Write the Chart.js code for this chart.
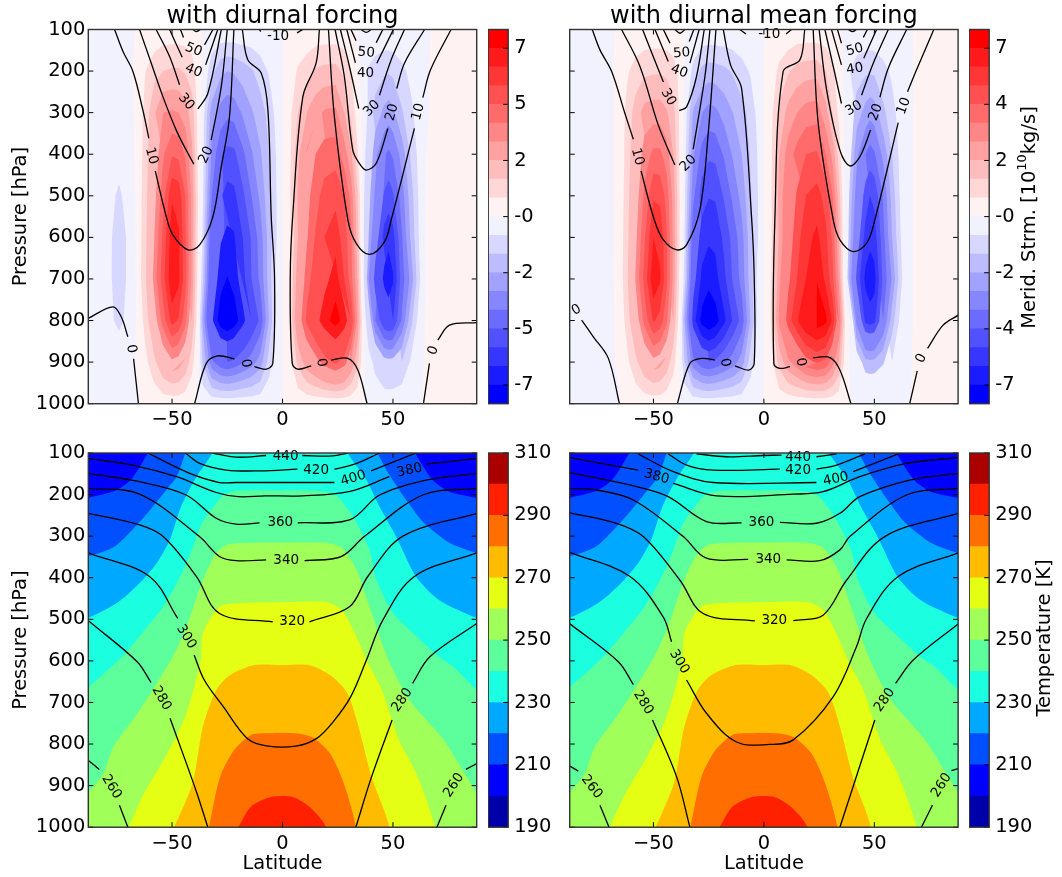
<!DOCTYPE html>
<html>
<head>
<meta charset="utf-8">
<title>Meridional streamfunction and temperature</title>
<script src="https://cdn.jsdelivr.net/npm/chart.js@4/dist/chart.umd.js"></script>
<style>
  body { margin: 0; background: #fff; }
  canvas { position: absolute; }
</style>
</head>
<body>
<script>
const panelTitles = ["with diurnal forcing", "with diurnal mean forcing"];
const latTicks = [-50, 0, 50];
const latTickLabels = ["\u221250", "0", "50"];
const pressureTicks = [100, 200, 300, 400, 500, 600, 700, 800, 900, 1000];
const pressureLevels = [100, 200, 300, 400, 500, 600, 700, 800, 900, 1000];

// colour bars
const strmLevels = [0.8, 1.6, 2.4, 3.2, 4, 4.8, 5.6, 6.4, 7.2, 8];
const strmTicks = [7.2, 4.8, 2.4, 0, -2.4, -4.8, -7.2];
const strmTickLabelsLeft = ["7", "5", "2", "-0", "-2", "-5", "-7"];
const strmTickLabelsRight = ["7", "4", "2", "-0", "-2", "-4", "-7"];
const redBands = ["#fff2f2", "#ffd7d7", "#ffbcbc", "#ffa1a1", "#ff8686", "#ff6b6b", "#ff5151", "#ff3636", "#ff1b1b", "#ff0000"];
const blueBands = ["#f2f2ff", "#d7d7ff", "#bcbcff", "#a1a1ff", "#8686ff", "#6b6bff", "#5151ff", "#3636ff", "#1b1bff", "#0000ff"];
const tempLevels = [190, 200, 210, 220, 230, 240, 250, 260, 270, 280, 290, 300, 310];
const tempTicks = [190, 210, 230, 250, 270, 290, 310];
const tempBands = ["#0000aa", "#0000ff", "#0050ff", "#00a8ff", "#1bffe0", "#5cff9c", "#a0ff58", "#e4ff14", "#ffbb00", "#ff6e00", "#ff2000", "#aa0000"];

// streamfunction, one row per pressure level
const strmLat = [-88, -78, -74, -70,
  -66, -62, -58, -54, -50, -47, -44, -41, -38,
  -36, -32, -28, -25, -22, -18, -14, -10, -6, -3, 0,
  3, 7, 11, 15, 19, 24, 28, 31, 34,
  37, 39, 42, 46, 48, 50, 54, 58, 62, 65, 68, 78, 88];

const strmLeft = [
  [-.1,-.1,-.1,-.1, .02,.1,.2,.3,.3,.3,.3,.2,.1, -.05,-.1,-.1,-.1,-.1,-.1,-.1,-.1,-.1,-.05,0, .1,.1,.1,.2,.2,.2,.2,.1,-.02, -.05,-.1,-.1,-.1,-.1,-.1,-.1,-.1,-.1,-.05,.02,.05,.05],
  [-.1,-.2,-.2,-.1, .1,.8,1.3,1.6,1.7,1.7,1.5,1.2,.3, -.1,-1.3,-2.2,-2.4,-2.3,-2,-1.7,-1.2,-.7,-.3,0, .3,.9,1.3,1.7,1.85,1.9,1.4,.8,.15, -.3,-.9,-1.2,-1.45,-1.5,-1.4,-1,-.6,-.2,-.05,.05,.1,.1],
  [-.1,-.2,-.3,-.2, .1,1.1,2.3,3.2,3.3,3.2,2.8,2,.4, -.5,-2.8,-3.5,-3.8,-3.7,-3.1,-2.5,-2,-1.3,-.6,0, .5,1.6,2.4,2.95,3.3,3.4,2.4,1.4,.4, -.3,-1,-1.9,-2.6,-2.8,-2.6,-1.7,-1,-.4,-.05,.05,.1,.1],
  [-.1,-.4,-.55,-.3, .1,1.2,2.6,3.9,4.7,4.6,3.9,2.6,.5, -.6,-3.4,-4.7,-5.05,-5,-4.2,-3.3,-2.5,-1.6,-.8,0, .5,2.2,3.3,4,4.4,4.45,3.6,2.6,.9, -.6,-1.4,-3,-3.9,-4.15,-3.9,-2.9,-1.5,-.5,0,.05,.1,.1],
  [-.2,-.65,-.9,-.6, .1,1.3,2.9,4.5,6.3,6.1,4.8,3,.6, -.7,-4,-5.5,-5.9,-5.8,-5,-4,-3,-1.8,-.9,0, .5,2.5,3.7,4.5,5.1,5.35,4.8,3.7,1.7, -.8,-2,-3.6,-4.9,-5.2,-4.9,-3.6,-2,-.6,0,.05,.1,.1],
  [-.2,-.75,-1,-.75, .1,1.4,3.2,5,6.9,6.5,5,3,.5, -1,-5,-6.3,-6.6,-6.5,-5.6,-4.7,-3.6,-2,-.9,0, .5,2.4,3.9,4.9,5.6,6.05,5.2,4.2,2, -.9,-2.4,-4.2,-5.9,-6.15,-5.9,-4.1,-2.3,-.7,0,.05,.1,.1],
  [-.2,-.75,-1,-.75, .1,1.5,3.5,5.3,7.1,6.6,5.1,3,.3, -1.5,-5.5,-6.9,-7.25,-6.9,-5.9,-4.8,-3.8,-2,-.7,0, .6,2.9,4.4,5.3,6.1,6.8,5.6,4.4,2.4, -1,-3.2,-5.2,-6.6,-6.9,-6.5,-4.4,-3,-.9,0,.05,.1,.1],
  [-.2,-.72,-.9,-.7, .05,1.1,2.7,4.4,5.9,5.5,4.3,2.4,.1, -2.6,-6.2,-7.7,-8,-7.7,-6.7,-5.6,-4.6,-2.3,-.7,0, .7,3.3,5,6,6.9,7.55,6.9,5.6,3, -.3,-1.6,-4,-5.55,-5.75,-5.6,-3.9,-1.9,-.4,.05,.05,.1,.1],
  [-.1,-.4,-.5,-.3, .05,.6,1.4,2.4,3,2.8,2.2,1.1,-.05, -1.7,-3.8,-4.6,-4.8,-4.6,-4.1,-3.6,-2.8,-1.2,-.3,0, .4,1.8,2.9,3.6,4.4,5,4.4,3.2,1.8, -.1,-.4,-1.1,-2,-2.1,-2.05,-1.6,-.7,-.1,.05,.05,.1,.1],
  [-.1,-.1,-.1,-.1, -.05,.1,.2,.3,.3,.3,.2,.1,-.05, -.1,-.2,-.2,-.2,-.2,-.2,-.2,-.2,-.1,-.05,0, .1,.2,.2,.2,.2,.2,.2,.2,.1, .02,-.05,-.1,-.1,-.1,-.1,-.1,-.05,-.02,.02,.05,.05,.05]
];

const strmRight = [
  [-.1,-.1,-.1,-.1, .05,.1,.2,.2,.2,.2,.2,.2,.15, .02,-.1,-.1,-.1,-.1,-.1,-.1,-.1,-.1,-.05,0, .1,.1,.1,.2,.2,.2,.2,.1,.02, -.05,-.1,-.1,-.1,-.1,-.1,-.1,-.1,-.1,-.05,.01,.05,.05],
  [-.1,-.1,-.1,-.1, .1,.7,1.1,1.4,1.5,1.5,1.4,1.1,.6, -.02,-1,-1.8,-2,-1.95,-1.8,-1.5,-1.1,-.7,-.3,0, .3,1,1.5,1.9,2.05,2.1,1.6,1,.3, -.2,-.8,-1.2,-1.45,-1.5,-1.45,-1.05,-.65,-.25,-.08,.01,.1,.1],
  [-.1,-.1,-.1,-.1, .1,1,2,2.7,2.8,2.8,2.5,1.9,.6, -.2,-2.5,-3.2,-3.5,-3.4,-2.9,-2.4,-1.9,-1.3,-.6,0, .5,1.8,2.7,3.2,3.55,3.65,2.7,1.6,.6, -.2,-1,-2,-2.7,-2.95,-2.8,-1.8,-1.1,-.4,-.08,.01,.1,.1],
  [-.1,-.1,-.1,-.1, .1,1.1,2.4,3.6,4.2,4.2,3.6,2.4,.6, -.3,-3.1,-4.3,-4.65,-4.6,-3.9,-3.1,-2.4,-1.5,-.8,0, .5,2.4,3.6,4.3,4.8,4.9,4,3,1.2, -.3,-1.3,-3,-4,-4.3,-4.1,-3,-1.6,-.5,-.05,.01,.1,.1],
  [-.1,-.1,-.1,-.1, .1,1.2,2.7,4.2,5.5,5.4,4.5,2.9,.7, -.5,-3.8,-5.2,-5.55,-5.5,-4.7,-3.8,-2.9,-1.7,-.9,0, .5,2.7,4,4.9,5.6,5.9,5.3,4.1,2, -.4,-1.9,-3.6,-5.2,-5.6,-5.4,-3.9,-2.1,-.6,-.05,.01,.1,.1],
  [-.1,-.1,-.1,-.1, .1,1.3,3,4.7,6.4,6.2,4.9,3,.7, -.7,-4.7,-6,-6.25,-6.2,-5.4,-4.5,-3.5,-1.9,-.9,0, .5,2.6,4.2,5.3,6.1,6.6,5.8,4.7,2.4, -.5,-2.2,-4.2,-5.9,-6.15,-6,-4.3,-2.4,-.8,-.05,.01,.1,.1],
  [-.1,-.1,-.1,-.1, .1,1.4,3.3,5.1,7,6.5,5,3,.5, -1,-5.2,-6.6,-6.95,-6.7,-5.8,-4.7,-3.7,-2,-.7,0, .6,3,4.6,5.6,6.4,7.15,6.2,5.1,3, -.6,-2.8,-5,-6.6,-6.9,-6.7,-4.6,-3.1,-1,-.05,.01,.1,.1],
  [-.1,-.1,-.1,-.1, .05,1.1,2.6,4.3,5.7,5.3,4.2,2.4,.2, -2.3,-6,-7.5,-7.9,-7.6,-6.6,-5.5,-4.5,-2.3,-.7,0, .7,3.4,5.2,6.3,7.2,7.75,7.4,6.3,4, .5,-.1,-3.5,-5.8,-6,-5.85,-4,-2,-.5,-.05,.01,.1,.1],
  [-.1,-.1,-.1,-.1, .05,.6,1.4,2.3,2.9,2.7,2.1,1.1,.05, -1.5,-3.7,-4.6,-4.8,-4.6,-4.1,-3.6,-2.8,-1.2,-.3,0, .4,1.9,3,3.7,4.5,4.9,4.6,3.6,2.3, .3,-.1,-.9,-2.1,-2.2,-2.15,-1.7,-.8,-.15,-.02,.01,.1,.1],
  [-.1,-.1,-.1,-.1, -.05,.1,.2,.3,.3,.3,.2,.1,-.03, -.1,-.2,-.2,-.2,-.2,-.2,-.2,-.2,-.1,-.05,0, .1,.2,.2,.2,.2,.2,.2,.2,.1, .1,.03,-.05,-.1,-.1,-.1,-.1,-.05,-.02,-.01,.01,.05,.05]
];

// isotherms as [lat, pressure], each one fills everything warmer below it
const iso200 = [[-95, 50], [95, 50], [95, 1100]];
const iso210 = [[-92,212],[-88,208],[-75,189],[-68,160],[-61,100],[-59,70],[58,70],[60,100],[68,165],[75.5,193],[88,208],[92,212]];
const iso220 = [[-92,352],[-88,348],[-80,335],[-75,321],[-68,285],[-61.5,247],[-52.6,189],[-48,158],[-44,100],[-42,70],[41,70],[43,100],[48.4,153],[56,213],[64,268],[75.5,316],[87.3,340],[92,345]];
const iso230 = [[-92,500],[-88,497],[-75,461],[-64.7,413],[-57,365],[-51,309],[-46,230],[-39,158],[-31.7,100],[-30,70],[28,70],[29.5,100],[38,165],[44,230],[51.5,302],[60.5,398],[71,454],[88,497],[92,500]];
const iso240 = [[-92,670],[-87.8,662],[-72.7,590],[-63.7,534],[-54.6,474],[-47,405],[-41,333],[-36.5,269],[-27.5,205],[-21,191],[0,190],[15,191],[24,201],[32,254],[39.4,333],[42.5,405],[50,485],[59,533],[71,591],[77.6,615],[88,670],[92,680]];
const iso250 = [[-92,960],[-87.9,918],[-81,870],[-76.6,807],[-65.6,726],[-50,593],[-43.5,518],[-36,405],[-30,341],[-24,319],[0,315],[20,316],[27,329],[33.5,381],[39.4,470],[48,598],[57.5,694],[73,790],[80.7,855],[87.9,918],[92,960]];
const iso260 = [[-69.7,1000],[-62.6,918],[-53,831],[-44,734],[-37,598],[-36,533],[-28.5,470],[-19.5,461],[0,459],[20,459],[27,478],[33.5,542],[38,598],[45,670],[52.7,790],[60.5,870],[69,1000]];
const iso270 = [[-49,1000],[-40.7,894],[-36,758],[-30,670],[-23.7,634],[-12.8,610],[0,610],[12,610],[21.5,634],[29.3,677],[34,750],[40.3,879],[48.4,1000]];
const iso280 = [[-33.3,1000],[-28.3,879],[-22,815],[-14.3,778],[-6.5,774],[6,774],[13.7,784],[21.5,822],[27.7,894],[33.2,1000]];
const iso290 = [[-20,1000],[-14.3,951],[-5,927],[4.4,927],[12.2,951],[19.6,1000]];
const isotherms = [iso200, iso210, iso220, iso230, iso240, iso250, iso260, iso270, iso280, iso290];

// contour lines as broken pieces, the breaks are where the labels sit
const strmLinesLeft = [
  [[-76,100],[-72.2,153],[-67.7,201],[-63.2,294],[-60.5,362]],
  [[-57.6,440],[-52.6,550],[-49.6,594],[-42.8,630],[-37.5,618],[-31.5,550],[-27.7,430],[-24,310],[-22,100]],
  [[-64.7,100],[-59.4,181],[-54.1,262],[-48.1,342],[-43.6,390],[-40.1,424]],
  [[-32.3,366],[-27.7,237],[-25,100]],
  [[-57.2,100],[-51.1,165],[-46.6,233]],
  [[-38.3,291],[-33.8,254],[-27.7,100]],
  [[-51.1,100],[-45.4,167]],
  [[-34.8,185],[-29.3,100]],
  [[-46.2,100],[-44.8,119]],
  [[-35.3,137],[-31.5,100]],
  [[-40.6,100],[-39.1,105],[-37.1,100]],
  [[-18.2,100],[-15.7,173],[-9.6,205],[-6.6,294],[-5.1,550],[-3.6,698],[-4.4,903],[-7.4,917],[-12.7,911]],
  [[-21.7,892],[-29.3,885],[-34.5,903],[-39.8,1000]],
  [[-88,795],[-76.8,767],[-73,791],[-70,839]],
  [[-67.4,892],[-65.2,1000]],
  [[-10.4,100],[-9.9,105]],
  [[6.6,108],[9.2,100]],
  [[16.7,100],[15.2,181],[9.2,262],[4.7,542],[3.5,694],[4.4,903],[7,917],[13,909]],
  [[22,895],[29.6,891],[34.1,919],[38.3,1000]],
  [[20.8,100],[23.5,310],[29.6,558],[33.3,614],[39.4,641],[46.2,610],[49.2,558],[59.7,338]],
  [[63.5,264],[67,197],[76.3,100]],
  [[23.8,100],[28,213],[31.8,390],[34.8,422],[37.9,438],[42.4,422],[47.7,338]],
  [[51.7,242],[55.2,181],[64.3,100]],
  [[26.2,100],[30.3,189],[34.5,290]],
  [[43.9,258],[49.2,173],[55.2,100]],
  [[29.1,100],[33,180]],
  [[42.7,181],[50.2,100]],
  [[31,100],[33.3,127]],
  [[42.4,132],[45.4,100]],
  [[35.6,100],[37.9,107],[40.1,100]],
  [[63.8,1000],[66.5,903]],
  [[70.3,847],[75.6,811],[87.9,805]]
];
const strmLabelsLeft = [
  [-59.4,404,"10",75],[-34.5,402,"20",-65],[-43.6,274,"30",50],[-40.3,199,"40",22],[-40.3,149,"50",22],
  [-2,116,"-10",0],[-68.5,868,"0",80],[-16.7,903,"0",80],[17.5,901,"0",80],
  [61.5,298,"10",-75],[49.6,299,"20",-75],[40.4,290,"30",-45],[37.6,207,"40",0],[37.9,156,"50",5],[68.3,872,"0",-70]
];

const strmLinesRight = [
  [[-77.7,100],[-74.2,149],[-68.9,201],[-62.9,302],[-59.1,364]],
  [[-55.6,440],[-49.6,558],[-45.5,606],[-39.5,630],[-35,618],[-29,534],[-25.2,350],[-21.7,100]],
  [[-64.4,100],[-56.1,189],[-47.8,330],[-40.3,426]],
  [[-32,388],[-26.7,213],[-24.4,100]],
  [[-54.9,100],[-50.1,165],[-45.5,226]],
  [[-38.3,295],[-35,286],[-30.5,213],[-27,100]],
  [[-49.3,100],[-43.3,177]],
  [[-33.5,181],[-29.3,100]],
  [[-45.5,100],[-42.5,133]],
  [[-33.8,129],[-31.7,100]],
  [[-40.3,100],[-38,109],[-35.7,100]],
  [[-18.4,100],[-15.1,185],[-10.1,242],[-5.6,550],[-4.4,694],[-4.4,903],[-6.8,919],[-13.1,909]],
  [[-22.2,895],[-28.2,891],[-33.5,903],[-39.2,1000]],
  [[-10.9,100],[-8.1,111]],
  [[10,111],[12.5,100]],
  [[-82.5,799],[-77.2,839],[-70.4,891],[-65.4,1000]],
  [[18.5,100],[16.3,173],[8.7,201],[5,550],[4.5,903],[7.2,915],[11.8,911]],
  [[22.3,889],[29.9,889],[34.4,919],[39.4,1000]],
  [[22.3,100],[24.6,326],[31.4,558],[34.4,606],[40.4,634],[46.5,614],[50.2,558],[60.8,324]],
  [[65,250],[69.1,197],[76.9,100]],
  [[25,100],[28.4,246],[34.4,390],[38.9,428],[43.4,406],[48.3,342]],
  [[52.5,263],[56.3,193],[64.6,100]],
  [[27.6,100],[31.4,189],[35.1,278]],
  [[44.2,258],[49.5,181],[56.3,100]],
  [[30.6,100],[35.1,185]],
  [[45.2,169],[51,100]],
  [[33.3,100],[35.1,133]],
  [[45,119],[46.8,100]],
  [[38.2,100],[40.1,105],[41.9,100]],
  [[66,1000],[69.4,921]],
  [[74.1,867],[81.1,811],[88,787]]
];
const strmLabelsRight = [
  [-57.3,406,"10",75],[-34.2,422,"20",-45],[-43.3,263,"30",60],[-38.3,201,"40",20],[-37.2,157,"50",-5],
  [2.4,112,"-10",0],[-84.8,775,"0",-30],[-17.6,901,"0",80],[16.7,900,"0",80],
  [63.4,284,"10",-70],[50.7,299,"20",-70],[40.7,290,"30",-30],[41.2,195,"40",-10],[41.2,149,"50",-15],[71.3,891,"0",-65]
];

const thetaLinesLeft = [
  [[-31.7,100],[-21,110],[-7.4,106]], [[9,106],[22.7,107],[29.5,100]],
  [[-44,100],[-37.5,125],[-25.5,141],[-10,143],[6.8,139]], [[23.5,139],[33,126],[44,100]],
  [[-61,100],[-42,149],[-28.5,171],[-21,171],[3.2,171],[23.5,171]], [[40.1,143],[60.5,100]],
  [[-88,113],[-68,129],[-48,157],[-30,195],[-20,205],[-8,203],[9,203],[30,193],[48.4,157]], [[65,127],[87.9,113]],
  [[-88,149],[-64.7,169],[-43.6,201],[-30,257],[-21,271],[-10.4,268]], [[6.9,268],[30.3,261],[44,201],[65,165],[87.9,149]],
  [[-88,185],[-64.7,199],[-37.6,301],[-28.5,349],[-21,359],[-7.4,357]], [[10,359],[26.5,349],[37,301],[63.5,201],[87.9,185]],
  [[-88,245],[-64.7,273],[-54,301],[-39,397],[-28.5,486],[-4.4,506]], [[12.2,506],[30.3,470],[38.6,397],[54.5,300],[87.9,245]],
  [[-88,340],[-60.2,397],[-47.4,498]],
  [[-40,586],[-35.4,646],[-26.8,710],[-15.8,787],[-6.5,805],[6,805],[15.3,787],[23,746],[30.9,686],[38,598],[45.4,502],[59.7,397],[87.9,340]],
  [[-88,503],[-65.8,602],[-59.5,652]], [[-50.9,738],[-39.2,911],[-33.8,1000]],
  [[33.2,1000],[40.3,879],[49.6,742]], [[58.9,654],[66.7,590],[87.9,510]],
  [[-88,839],[-82.9,861]], [[-73.8,947],[-70,1000]],
  [[69.9,1000],[74,947]], [[83,861],[87.9,847]]
];
const thetaLabelsLeft = [
  [1.4,109,"440",0],[15.2,141,"420",0],[32.1,161,"400",-17],[57.5,142,"380",-13],
  [-1,268,"360",0],[1.7,358,"340",0],[4.4,506,"320",0],[-43.6,542,"300",58],
  [-54.8,690,"280",60],[54.2,694,"280",-55],[-77.4,903,"260",58],[77.6,899,"260",-57]
];

const thetaLinesRight = [
  [[-30.5,102],[-16.9,109],[-.3,106],[8,105]], [[23.8,109],[32.9,102]],
  [[-43.3,102],[-35,129],[-23,141],[7.2,139]], [[23.8,139],[32.9,129],[45.7,102]],
  [[-56.9,102],[-41,145],[-23,171],[23.8,171]], [[40.4,145],[60.8,102]],
  [[-87.8,111],[-56.9,141]], [[-41,173],[-21.4,203],[13.3,199],[26.8,193],[43.4,157],[64.5,125],[87.9,111]],
  [[-87.8,147],[-57.6,181],[-43.3,205],[-26,265],[-10.1,268]], [[7.2,267],[23.8,269],[34.4,245],[43.4,205],[66,165],[87.9,149]],
  [[-87.8,185],[-75.7,189],[-59.1,213],[-36.5,301],[-26,353],[-7.1,356]], [[10.3,357],[25.3,359],[34.4,333],[38.9,301],[64.5,201],[87.9,185]],
  [[-87.8,244],[-66.7,269],[-54.6,301],[-38,406],[-27.5,486],[-4.1,504]], [[13.3,503],[26.8,490],[37.4,406],[54.7,301],[87.9,245]],
  [[-87.8,339],[-60.6,397],[-45.6,494],[-41.8,554]],
  [[-35,646],[-26,726],[-12.4,795],[2.7,801],[13.3,790],[31.4,686],[41.9,566],[46.5,498],[60.8,397],[87.9,340]],
  [[-87.8,511],[-65.9,602],[-59.1,657]], [[-50.4,742],[-39.5,879],[-33.5,1000]],
  [[34.4,1000],[50.2,742]], [[59.6,654],[67.6,598],[87.9,511]],
  [[-87.8,853],[-84,865]], [[-74.2,947],[-70.1,1000]],
  [[71.3,1000],[76.3,947]], [[84.9,864],[87.9,859]]
];
const thetaLabelsRight = [
  [15.5,110,"440",0],[15.5,141,"420",0],[32.6,163,"400",-12],[-48.6,157,"380",15],
  [-1.1,268,"360",0],[2,357,"340",0],[4.7,504,"320",0],[-38.3,602,"300",58],
  [-54.6,700,"280",58],[54.7,694,"280",-55],[-78,903,"260",52],[80.4,899,"260",-57]
];

const FONT = "'DejaVu Sans'";
const TICK_SIZE = 19.44;
Chart.defaults.font.family = FONT;
Chart.defaults.color = "#000";

// walk one level through the grid and return the closed outlines of value >= level
function contourRings(rows, level) {
  const xs = [-95, ...strmLat, 95];
  const ys = [60, ...pressureLevels, 1060];
  const val = (i, j) =>
    i === 0 || j === 0 || i === xs.length - 1 || j === ys.length - 1 ? -1000 : rows[j - 1][i - 1];
  const key = (pt) => pt.x.toFixed(4) + "," + pt.y.toFixed(4);
  const next = new Map();

  for (let j = 0; j < ys.length - 1; j++) {
    for (let i = 0; i < xs.length - 1; i++) {
      const corners = [[i, j], [i + 1, j], [i + 1, j + 1], [i, j + 1]];
      const crossings = [];
      corners.forEach((a, k) => {
        const b = corners[(k + 1) % 4];
        const va = val(a[0], a[1]);
        const vb = val(b[0], b[1]);
        if (va >= level !== vb >= level) {
          const t = (level - va) / (vb - va);
          crossings.push({
            pt: { x: xs[a[0]] + t * (xs[b[0]] - xs[a[0]]), y: ys[a[1]] + t * (ys[b[1]] - ys[a[1]]) },
            entering: vb >= level,
          });
        }
      });
      crossings.forEach((c, n) => {
        if (!c.entering) {
          const prev = crossings[(n - 1 + crossings.length) % crossings.length];
          next.set(key(c.pt), { from: c.pt, to: prev.pt });
        }
      });
    }
  }

  const rings = [];
  while (next.size) {
    const firstKey = next.keys().next().value;
    const ring = [];
    let k = firstKey;
    while (next.has(k)) {
      const seg = next.get(k);
      next.delete(k);
      ring.push(seg.from);
      k = key(seg.to);
    }
    if (ring.length > 2) rings.push(ring);
  }
  return rings;
}

function shapeDataset(points, color, tension) {
  return {
    data: points,
    showLine: true,
    fill: "shape",
    backgroundColor: color,
    borderWidth: 0,
    pointRadius: 0,
    tension: tension,
  };
}

function lineDatasets(lines) {
  return lines.map((piece) => ({
    data: piece.map(([x, y]) => ({ x, y })),
    showLine: true,
    fill: false,
    borderColor: "#000",
    borderWidth: 1.3,
    pointRadius: 0,
    tension: 0.35,
  }));
}

function strmShapes(rows) {
  const shapes = [];
  const add = (field, level, color) =>
    contourRings(field, level).forEach((ring) => shapes.push(shapeDataset(ring, color, 0.05)));
  const negative = rows.map((row) => row.map((v) => -v));
  add(rows, -100, blueBands[0]);
  add(rows, 0, redBands[0]);
  strmLevels.slice(0, 9).forEach((level, k) => add(rows, level, redBands[k + 1]));
  strmLevels.slice(0, 9).forEach((level, k) => add(negative, level, blueBands[k + 1]));
  return shapes;
}

function tempShapes() {
  return isotherms.map((curve, k) => {
    const last = curve[curve.length - 1];
    const closed = [...curve, [last[0], 1100], [curve[0][0], 1100]];
    return shapeDataset(closed.map(([x, y]) => ({ x, y })), tempBands[k + 1], 0.25);
  });
}

// tick labels hang over the ends of an axis, keep the plot area from shrinking for them
function dropLabelOverhang(scale) {
  scale.paddingTop = 0;
  scale.paddingBottom = 0;
  scale.paddingLeft = 0;
  scale.paddingRight = 0;
}

// inward ticks and the dark frame, the way the original axes look
function framePlugin(drawLatTicks) {
  return {
    id: "frame",
    afterDraw(chart) {
      const { ctx, chartArea: area, scales } = chart;
      ctx.save();
      ctx.strokeStyle = "#000";
      ctx.lineWidth = 1;
      ctx.beginPath();
      if (drawLatTicks) {
        scales.x.ticks.forEach((t) => {
          const px = scales.x.getPixelForValue(t.value);
          ctx.moveTo(px, area.bottom);
          ctx.lineTo(px, area.bottom - 5);
          ctx.moveTo(px, area.top);
          ctx.lineTo(px, area.top + 5);
        });
      }
      scales.y.ticks.forEach((t) => {
        const py = scales.y.getPixelForValue(t.value);
        ctx.moveTo(area.right, py);
        ctx.lineTo(area.right - 5, py);
        if (drawLatTicks) {
          ctx.moveTo(area.left, py);
          ctx.lineTo(area.left + 5, py);
        }
      });
      ctx.stroke();
      ctx.strokeStyle = "#333";
      ctx.lineWidth = 1.4;
      ctx.strokeRect(area.left, area.top, area.right - area.left, area.bottom - area.top);
      ctx.restore();
    },
  };
}

function labelPlugin(labels) {
  return {
    id: "contourLabels",
    afterDatasetsDraw(chart) {
      const { ctx, scales } = chart;
      ctx.save();
      ctx.fillStyle = "#000";
      ctx.font = "13.5px " + FONT;
      ctx.textAlign = "center";
      ctx.textBaseline = "middle";
      labels.forEach(([lat, p, text, angle]) => {
        ctx.save();
        ctx.translate(scales.x.getPixelForValue(lat), scales.y.getPixelForValue(p));
        ctx.rotate((angle * Math.PI) / 180);
        ctx.fillText(text, 0, 0);
        ctx.restore();
      });
      ctx.restore();
    },
  };
}

function addCanvas(left, top, width, height) {
  const canvas = document.createElement("canvas");
  canvas.width = width;
  canvas.height = height;
  canvas.style.left = left + "px";
  canvas.style.top = top + "px";
  document.body.appendChild(canvas);
  return canvas;
}

function makePanel(cfg) {
  const canvas = addCanvas(cfg.left, cfg.top, 489, 434);
  const datasets = [...cfg.shapes, ...lineDatasets(cfg.lines)].reverse();
  const isTop = cfg.title !== undefined;
  return new Chart(canvas, {
    type: "scatter",
    data: { datasets },
    options: {
      responsive: false,
      animation: false,
      events: [],
      elements: { line: { capBezierPoints: false } },
      layout: { autoPadding: false, padding: { top: isTop ? 0 : 10, right: 489 - cfg.yWidth - 388.4, bottom: 0, left: 0 } },
      plugins: {
        legend: { display: false },
        tooltip: { enabled: false },
        title: {
          display: isTop,
          text: cfg.title,
          fullSize: false,
          font: { size: 24, weight: "normal", lineHeight: 1 },
          color: "#000",
          padding: { top: 4.5, bottom: 1 },
        },
      },
      scales: {
        x: {
          type: "linear",
          min: -87.9,
          max: 87.9,
          grid: { display: false, drawTicks: false },
          border: { display: false },
          afterBuildTicks: (s) => { s.ticks = latTicks.map((value) => ({ value })); },
          afterFit: (s) => { s.height = isTop ? 30.3 : 49.8; dropLabelOverhang(s); },
          ticks: {
            autoSkip: false,
            maxRotation: 0,
            padding: 5,
            font: { size: TICK_SIZE },
            callback: (v) => latTickLabels[latTicks.indexOf(v)],
          },
          title: {
            display: !isTop,
            text: "Latitude",
            font: { size: TICK_SIZE },
            padding: { top: 0, bottom: 1 },
          },
        },
        y: {
          type: "linear",
          reverse: true,
          min: 100,
          max: 1000,
          grid: { display: false, drawTicks: false },
          border: { display: false },
          afterBuildTicks: (s) => { s.ticks = pressureTicks.map((value) => ({ value })); },
          afterFit: (s) => { s.width = cfg.yWidth; dropLabelOverhang(s); },
          ticks: { display: cfg.showPressure, autoSkip: false, padding: 3, font: { size: TICK_SIZE }, callback: (v) => String(v) },
          title: {
            display: cfg.showPressure,
            text: "Pressure [hPa]",
            font: { size: TICK_SIZE },
            padding: { top: 9.5, bottom: 0 },
          },
        },
      },
    },
    plugins: [labelPlugin(cfg.labels), framePlugin(true)],
  });
}

// vertical label of the right hand colour bars, pieces so the exponent can be raised
function barLabelPlugin(pieces, cx, cy) {
  return {
    id: "barLabel",
    afterDraw(chart) {
      const { ctx } = chart;
      ctx.save();
      ctx.translate(cx, cy);
      ctx.rotate(-Math.PI / 2);
      ctx.fillStyle = "#000";
      ctx.textBaseline = "middle";
      ctx.textAlign = "left";
      const width = pieces.reduce((sum, p) => {
        ctx.font = p.size + "px " + FONT;
        return sum + ctx.measureText(p.text).width;
      }, 0);
      let x = -width / 2;
      pieces.forEach((p) => {
        ctx.font = p.size + "px " + FONT;
        ctx.fillText(p.text, x, p.rise || 0);
        x += ctx.measureText(p.text).width;
      });
      ctx.restore();
    },
  };
}

function makeBar(cfg) {
  const canvas = addCanvas(cfg.left, cfg.top, cfg.width, 395);
  const datasets = cfg.colors.map((color, k) => ({
    data: [[cfg.levels[k], cfg.levels[k + 1]]],
    backgroundColor: color,
    borderWidth: 0,
    barPercentage: 1,
    categoryPercentage: 1,
    grouped: false,
  }));
  const plugins = [framePlugin(false)];
  if (cfg.label) plugins.push(cfg.label);
  return new Chart(canvas, {
    type: "bar",
    data: { labels: [""], datasets },
    options: {
      responsive: false,
      animation: false,
      events: [],
      layout: { autoPadding: false, padding: { top: cfg.padTop, left: 0.2, right: 0, bottom: 395 - cfg.padTop - 374.2 } },
      plugins: { legend: { display: false }, tooltip: { enabled: false } },
      scales: {
        x: { display: false },
        y: {
          type: "linear",
          position: "right",
          min: cfg.levels[0],
          max: cfg.levels[cfg.levels.length - 1],
          grid: { display: false, drawTicks: false },
          border: { display: false },
          afterBuildTicks: (s) => { s.ticks = cfg.ticks.map((value) => ({ value })); },
          afterFit: (s) => { s.width = cfg.width - 20.2; dropLabelOverhang(s); },
          ticks: {
            autoSkip: false,
            padding: 6,
            font: { size: TICK_SIZE },
            callback: (v) => (cfg.tickLabels ? cfg.tickLabels[cfg.ticks.indexOf(v)] : String(v)),
          },
        },
      },
    },
    plugins,
  });
}

const strmBarLevels = [...strmLevels.slice().reverse().map((v) => -v), 0, ...strmLevels];
const strmBarColors = [...blueBands.slice().reverse(), ...redBands];

makePanel({ left: 0, top: 0, yWidth: 88.3, showPressure: true, title: panelTitles[0], shapes: strmShapes(strmLeft), lines: strmLinesLeft, labels: strmLabelsLeft });
makePanel({ left: 481, top: 0, yWidth: 88.7, showPressure: false, title: panelTitles[1], shapes: strmShapes(strmRight), lines: strmLinesRight, labels: strmLabelsRight });
makePanel({ left: 0, top: 443, yWidth: 88.3, showPressure: true, shapes: tempShapes(), lines: thetaLinesLeft, labels: thetaLabelsLeft });
makePanel({ left: 481, top: 443, yWidth: 88.7, showPressure: false, shapes: tempShapes(), lines: thetaLinesRight, labels: thetaLabelsRight });

makeBar({ left: 488, top: 19, width: 73, padTop: 10.5, levels: strmBarLevels, colors: strmBarColors, ticks: strmTicks, tickLabels: strmTickLabelsLeft });
makeBar({
  left: 969, top: 19, width: 93, padTop: 10.5, levels: strmBarLevels, colors: strmBarColors, ticks: strmTicks, tickLabels: strmTickLabelsRight,
  label: barLabelPlugin([
    { text: "Merid. Strm. [10", size: TICK_SIZE },
    { text: "10", size: 13, rise: -7 },
    { text: "kg/s]", size: TICK_SIZE },
  ], 61, 198.5),
});
makeBar({ left: 488, top: 443, width: 73, padTop: 10, levels: tempLevels, colors: tempBands, ticks: tempTicks });
makeBar({
  left: 969, top: 443, width: 93, padTop: 10, levels: tempLevels, colors: tempBands, ticks: tempTicks,
  label: barLabelPlugin([{ text: "Temperature [K]", size: TICK_SIZE }], 76, 195),
});
</script>
</body>
</html>
